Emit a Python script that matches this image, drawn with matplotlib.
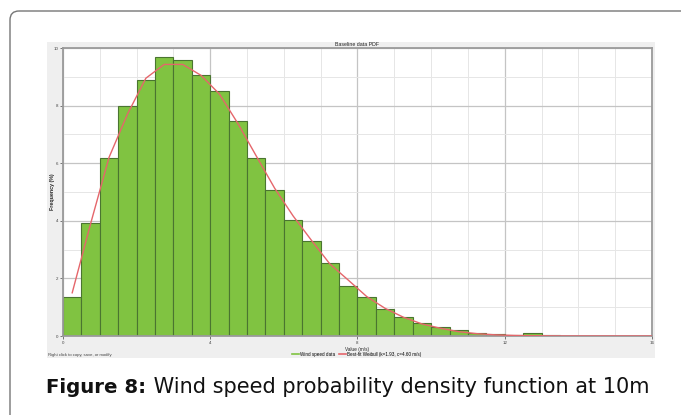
import numpy as np
import matplotlib
matplotlib.use("Agg")
import matplotlib.pyplot as plt
from matplotlib.patches import FancyBboxPatch, Rectangle
from matplotlib.lines import Line2D
from matplotlib.transforms import Affine2D

plt.rcParams['font.family'] = ['Liberation Sans', 'DejaVu Sans']

# ---- data ----
bin_starts = [0.0, 0.5, 1.0, 1.5, 2.0, 2.5, 3.0, 3.5, 4.0, 4.5, 5.0, 5.5, 6.0, 6.5,
              7.0, 7.5, 8.0, 8.5, 9.0, 9.5, 10.0, 10.5, 11.0, 11.5, 12.0, 12.5, 13.0]
frequency = [1.35, 3.92, 6.18, 7.99, 8.89, 9.69, 9.57, 9.07, 8.49, 7.47, 6.18, 5.07, 4.03, 3.29,
             2.55, 1.74, 1.37, 0.94, 0.66, 0.44, 0.32, 0.21, 0.10, 0.07, 0.04, 0.09, 0.02]

fit_speed = [0.25, 0.75, 1.25, 1.75, 2.25, 2.75, 3.25, 3.75, 4.25, 4.75, 5.25, 5.75, 6.25,
             6.75, 7.25, 7.75, 8.25, 8.75, 9.25, 9.75, 10.25, 10.75, 11.25, 11.75, 12.25,
             12.75, 13.5, 14.5, 16.0]
fit_freq = [1.50, 3.90, 6.20, 7.70, 8.95, 9.43, 9.43, 9.05, 8.40, 7.38, 6.25, 5.13, 4.17,
            3.32, 2.50, 1.94, 1.37, 0.96, 0.65, 0.42, 0.27, 0.15, 0.08, 0.04, 0.02,
            0.01, 0.0, 0.0, 0.0]

x_ticks = [0, 4, 8, 12, 16]
y_ticks = [0, 2, 4, 6, 8, 10]

chart_title = "Baseline data PDF"
x_label = "Value (m/s)"
y_label = "Frequency (%)"
legend_labels = ["Wind speed data", "Best-fit Weibull (k=1.93, c=4.60 m/s)"]
note_text = "Right click to copy, save, or modify"
caption_bold = "Figure 8:"
caption_rest = " Wind speed probability density function at 10m"

# ---- figure ----
W, H = 681, 415
fig = plt.figure(figsize=(W / 100, H / 100), dpi=100)
fig.patch.set_facecolor('white')

# transform in image pixel coordinates (origin top-left)
pix = Affine2D().scale(1.0 / W, -1.0 / H).translate(0, 1) + fig.transFigure

# outer rounded frame (open to the right and bottom)
frame = FancyBboxPatch((10, 11), 720, 460, boxstyle="round,pad=0,rounding_size=9",
                       transform=pix, facecolor='none', edgecolor='#767676',
                       linewidth=1.0, zorder=0)
fig.patches.append(frame)

# grey chart panel
panel = Rectangle((46.5, 42.5), 608.5, 315.5, transform=pix, facecolor='#efefef',
                  edgecolor='none', zorder=0)
fig.patches.append(panel)

ax = fig.add_axes([63 / W, 1 - 336 / H, (652 - 63) / W, (336 - 48) / H])
ax.set_zorder(3)
ax.set_facecolor('white')
ax.set_xlim(0, 16)
ax.set_ylim(0, 10)

ax.set_xticks(x_ticks)
ax.set_yticks(y_ticks)
ax.set_xticks(np.arange(0, 17, 1), minor=True)
ax.set_yticks(np.arange(0, 11, 1), minor=True)
ax.grid(True, which='major', color='#c4c4c4', linewidth=0.9)
ax.grid(True, which='minor', color='#e6e6e6', linewidth=0.7)
ax.set_axisbelow(True)
ax.tick_params(which='major', labelsize=3.2, length=2, width=0.5, colors='#444444', pad=1.5)
ax.tick_params(which='minor', length=0)
for s in ax.spines.values():
    s.set_color('#9a9a9a')
    s.set_linewidth(1.3)

ax.bar(bin_starts, frequency, width=0.5, align='edge', color='#80c341',
       edgecolor='#4a7530', linewidth=0.8, zorder=2)
ax.plot(fit_speed, fit_freq, color='#e5666b', linewidth=1.0, zorder=3)

ax.set_title(chart_title, fontsize=3.8, color='#222222', pad=1.5)
ax.set_xlabel(x_label, fontsize=3.4, color='#222222', labelpad=1.5)
ax.set_ylabel(y_label, fontsize=3.8, fontweight='bold', color='#222222', labelpad=-1)

handles = [Line2D([], [], color='#80c341', linewidth=1.2),
           Line2D([], [], color='#e5666b', linewidth=1.2)]
leg = fig.legend(handles, legend_labels, loc='center', ncol=2, frameon=False,
                 bbox_to_anchor=(357 / W, 1 - 354 / H), fontsize=3.3,
                 handlelength=1.4, handletextpad=0.4, columnspacing=0.8)
leg.set_zorder(4)

fig.text(48 / W, 1 - 355 / H, note_text, fontsize=3.1, color='#444444',
         ha='left', va='center', zorder=4)

# caption
cap_font = ['DejaVu Sans']
t1 = fig.text(46.5 / W, 1 - 392.5 / H, caption_bold, fontsize=14.2, fontweight='bold',
              family=cap_font, color='#111111', ha='left', va='baseline')
fig.canvas.draw()
r = fig.canvas.get_renderer()
bb = t1.get_window_extent(renderer=r)
x_end = bb.x1 / fig.bbox.width
fig.text(x_end, 1 - 392.5 / H, caption_rest, fontsize=15.0, family=cap_font,
         color='#111111', ha='left', va='baseline')

fig.savefig('out.png', dpi=100, facecolor='white')
